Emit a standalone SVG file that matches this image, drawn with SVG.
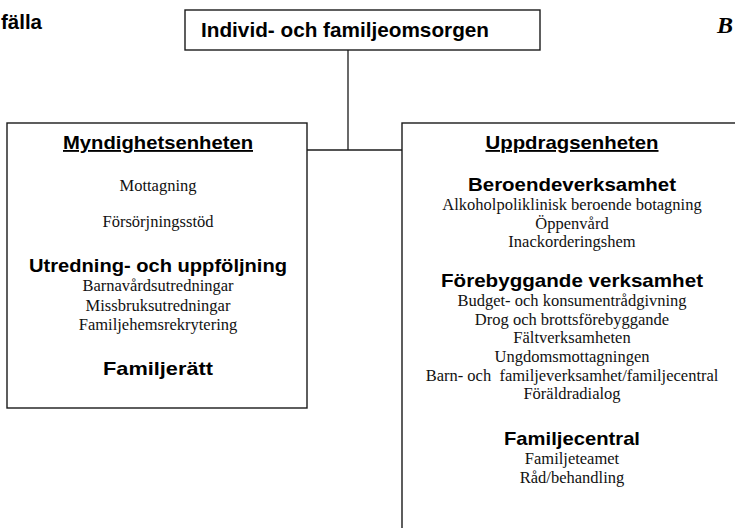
<svg xmlns="http://www.w3.org/2000/svg" width="735" height="528" viewBox="0 0 735 528">
<style>
.box{fill:#fff;stroke:#1a1a1a;stroke-width:1.4}
.conn{fill:none;stroke:#1a1a1a;stroke-width:1.3}
.h{font-family:"Liberation Sans",Arial,sans-serif;font-weight:bold;font-size:18.5px;fill:#000;text-anchor:middle}
.s{font-family:"Liberation Serif","Times New Roman",serif;font-size:16.5px;fill:#111;text-anchor:middle}
.u{text-decoration:underline}
</style>
<rect width="735" height="528" fill="#fff"/>
<text x="1" y="29" font-family="Liberation Sans, Arial, sans-serif" font-weight="bold" font-size="20.5" fill="#000">fälla</text>
<text x="717" y="33" font-family="Liberation Serif, Times New Roman, serif" font-weight="bold" font-style="italic" font-size="24" fill="#000">B</text>
<g id="connectors">
<line class="conn" x1="348" y1="50" x2="348" y2="150"/>
<line class="conn" x1="307" y1="150" x2="402" y2="150"/>
</g>
<g id="ifo">
<rect class="box" x="185" y="10" width="355" height="40"/>
<text x="201" y="37" font-family="Liberation Sans, Arial, sans-serif" font-weight="bold" font-size="20.5" fill="#000" textLength="288" lengthAdjust="spacingAndGlyphs">Individ- och familjeomsorgen</text>
</g>
<g id="myndighetsenheten">
<rect class="box" x="7" y="123" width="300" height="285"/>
<text class="h u" x="158" y="149" textLength="190" lengthAdjust="spacingAndGlyphs">Myndighetsenheten</text>
<text class="s" x="158" y="190.5">Mottagning</text>
<text class="s" x="158" y="226.5">Försörjningsstöd</text>
<text class="h" x="158" y="272" textLength="258" lengthAdjust="spacingAndGlyphs">Utredning- och uppföljning</text>
<text class="s" x="158" y="291">Barnavårdsutredningar</text>
<text class="s" x="158" y="310.5">Missbruksutredningar</text>
<text class="s" x="158" y="330">Familjehemsrekrytering</text>
<text class="h" x="158" y="375" textLength="110" lengthAdjust="spacingAndGlyphs">Familjerätt</text>
</g>
<g id="uppdragsenheten">
<rect class="box" x="402" y="123" width="345" height="420"/>
<text class="h u" x="572" y="149" textLength="173" lengthAdjust="spacingAndGlyphs">Uppdragsenheten</text>
<text class="h" x="572" y="191" textLength="208" lengthAdjust="spacingAndGlyphs">Beroendeverksamhet</text>
<text class="s" x="572" y="210">Alkoholpoliklinisk beroende botagning</text>
<text class="s" x="572" y="228.5">Öppenvård</text>
<text class="s" x="572" y="247">Inackorderingshem</text>
<text class="h" x="572" y="287" textLength="262" lengthAdjust="spacingAndGlyphs">Förebyggande verksamhet</text>
<text class="s" x="572" y="305.5">Budget- och konsumentrådgivning</text>
<text class="s" x="572" y="324.5">Drog och brottsförebyggande</text>
<text class="s" x="572" y="343">Fältverksamheten</text>
<text class="s" x="572" y="362">Ungdomsmottagningen</text>
<text class="s" x="572" y="380.5" xml:space="preserve">Barn- och  familjeverksamhet/familjecentral</text>
<text class="s" x="572" y="399">Föräldradialog</text>
<text class="h" x="572" y="445" textLength="136" lengthAdjust="spacingAndGlyphs">Familjecentral</text>
<text class="s" x="572" y="464">Familjeteamet</text>
<text class="s" x="572" y="482.5">Råd/behandling</text>
</g>
</svg>
